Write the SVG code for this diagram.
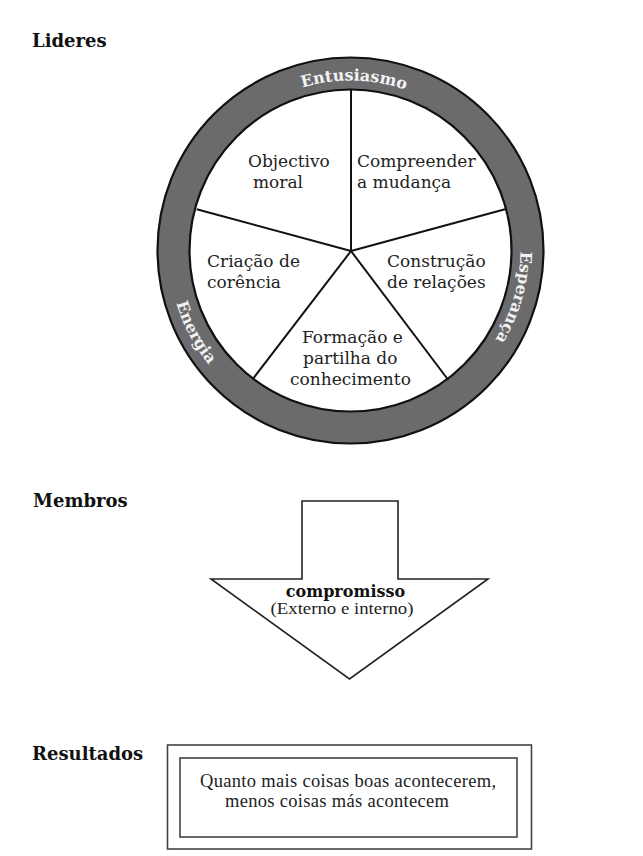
<svg xmlns="http://www.w3.org/2000/svg" xmlns:xlink="http://www.w3.org/1999/xlink" width="643" height="856" viewBox="0 0 643 856">
  <style>
    .head { font-family: "DejaVu Serif", "Liberation Serif", serif; font-weight: bold; font-size: 18px; fill: #111; }
    .seg { font-family: "DejaVu Serif", "Liberation Serif", serif; font-size: 17px; fill: #222; }
    .ringtxt { font-family: "DejaVu Serif", "Liberation Serif", serif; font-weight: bold; font-size: 16px; fill: #f2f2f2; }
    .body { font-family: "Liberation Serif", "Times New Roman", serif; font-size: 18.5px; fill: #222; }
    .spoke { stroke: #111; stroke-width: 2; fill: none; }
    .frame { fill: none; stroke: #444; stroke-width: 1.6; }
  </style>
  <defs>
    <path id="arcTop" d="M 192.0 189.0 A 170 170 0 0 1 511.4 195.7"/>
    <path id="arcRight" d="M 450.4 113.0 A 170 170 0 0 1 362.4 420.1"/>
    <path id="arcLeft" d="M 215.6 128.3 A 182 182 0 0 0 375.2 430.8"/>
  </defs>

  <rect width="643" height="856" fill="#ffffff"/>

  <!-- section headings -->
  <g id="lideres"><text class="head" x="32" y="47">Lideres</text></g>
  <g id="membros"><text class="head" x="33" y="507">Membros</text></g>
  <g id="resultados"><text class="head" x="32" y="760">Resultados</text></g>

  <!-- leadership wheel -->
  <g id="wheel">
    <path d="M 350.5 57.5 A 193 193 0 1 1 350.5 443.5 A 193 193 0 1 1 350.5 57.5 Z M 350.5 89.5 A 161 161 0 1 0 350.5 411.5 A 161 161 0 1 0 350.5 89.5 Z" fill="#6b6b6d" fill-rule="evenodd"/>
    <circle cx="350.5" cy="250.5" r="193" fill="none" stroke="#111" stroke-width="2.2"/>
    <circle cx="350.5" cy="250.5" r="161" fill="#ffffff" stroke="#111" stroke-width="2.2"/>
    <text class="ringtxt"><textPath xlink:href="#arcTop" href="#arcTop" startOffset="50%" text-anchor="middle">Entusiasmo</textPath></text>
    <text class="ringtxt"><textPath xlink:href="#arcRight" href="#arcRight" startOffset="50%" text-anchor="middle">Esperança</textPath></text>
    <text class="ringtxt"><textPath xlink:href="#arcLeft" href="#arcLeft" startOffset="50%" text-anchor="middle">Energia</textPath></text>
  </g>

  <!-- dividing lines of the wheel -->
  <g id="connectors">
    <line class="spoke" x1="351" y1="251" x2="351" y2="89.5"/>
    <line class="spoke" x1="351" y1="251" x2="196.7" y2="209.3"/>
    <line class="spoke" x1="351" y1="251" x2="505" y2="209.3"/>
    <line class="spoke" x1="351" y1="251" x2="253.3" y2="378.3"/>
    <line class="spoke" x1="351" y1="251" x2="448.3" y2="380"/>
  </g>

  <g id="objectivo-moral">
    <text class="seg" x="248" y="167">Objectivo</text>
    <text class="seg" x="253" y="188">moral</text>
  </g>
  <g id="compreender-mudanca">
    <text class="seg" x="357" y="167">Compreender</text>
    <text class="seg" x="357" y="188">a mudança</text>
  </g>
  <g id="criacao-coerencia">
    <text class="seg" x="207" y="267">Criação de</text>
    <text class="seg" x="207" y="288">corência</text>
  </g>
  <g id="construcao-relacoes">
    <text class="seg" x="387" y="267">Construção</text>
    <text class="seg" x="387" y="288">de relações</text>
  </g>
  <g id="formacao-conhecimento">
    <text class="seg" x="302" y="343">Formação e</text>
    <text class="seg" x="303" y="364">partilha do</text>
    <text class="seg" x="290" y="385">conhecimento</text>
  </g>

  <!-- commitment arrow -->
  <g id="compromisso">
    <polygon points="302,501 398,501 398,579 488,579 349.5,679 211,579 302,579" fill="#ffffff" stroke="#222" stroke-width="1.6" stroke-linejoin="miter"/>
    <text x="345.5" y="597" text-anchor="middle" style="font-family: 'DejaVu Serif', 'Liberation Serif', serif; font-weight: bold; font-size: 16px; fill: #111;">compromisso</text>
    <text x="342" y="614" text-anchor="middle" textLength="143" lengthAdjust="spacingAndGlyphs" style="font-family: 'Liberation Serif', 'Times New Roman', serif; font-size: 16px; fill: #222;">(Externo e interno)</text>
  </g>

  <!-- results box -->
  <g id="resultado-box">
    <rect class="frame" x="167.5" y="745" width="364" height="104"/>
    <rect class="frame" x="180" y="758" width="337" height="79"/>
    <text class="body" x="200" y="787" textLength="296">Quanto mais coisas boas acontecerem,</text>
    <text class="body" x="225" y="807" textLength="224">menos coisas más acontecem</text>
  </g>
</svg>
